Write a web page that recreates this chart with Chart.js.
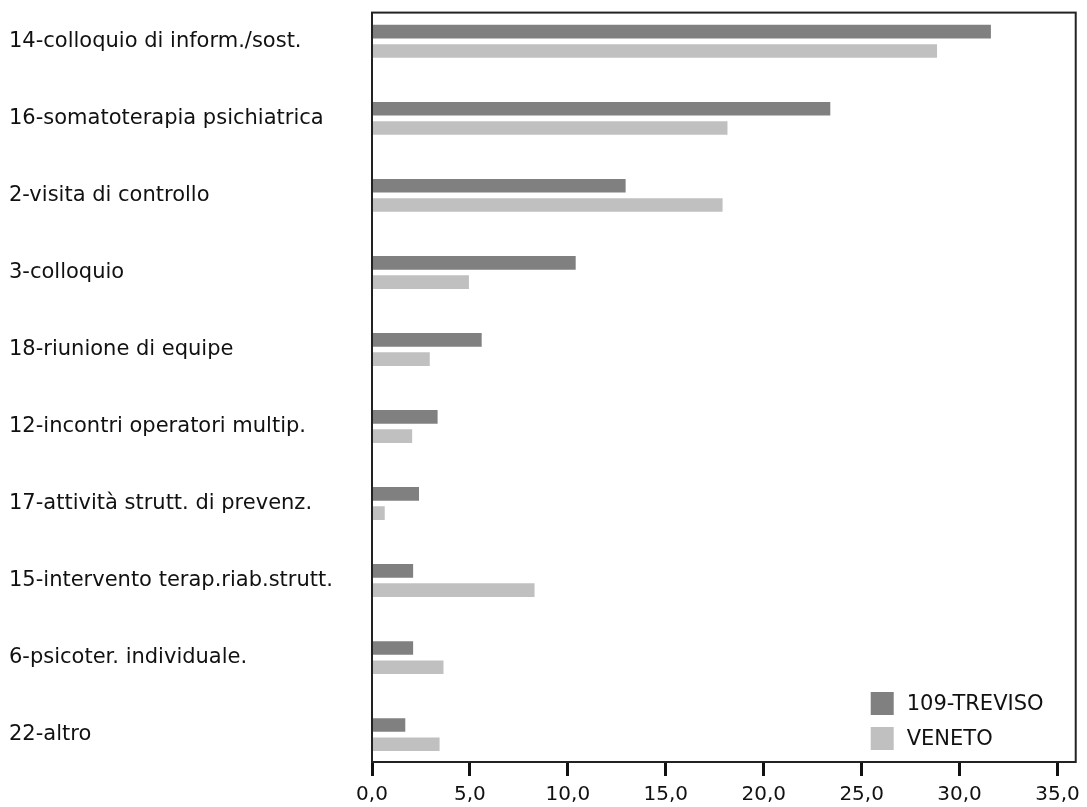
<!DOCTYPE html>
<html>
<head>
<meta charset="utf-8">
<script src="https://cdn.jsdelivr.net/npm/chart.js@4/dist/chart.umd.min.js"></script>
<style>
  html, body { margin: 0; padding: 0; background: #ffffff; }
  #wrap { width: 1087px; height: 807px; }
</style>
</head>
<body>
<div id="wrap"><canvas id="c" width="1087" height="807"></canvas></div>
<script>
const categories = [
  "14-colloquio di inform./sost.",
  "16-somatoterapia psichiatrica",
  "2-visita di controllo",
  "3-colloquio",
  "18-riunione di equipe",
  "12-incontri operatori multip.",
  "17-attività strutt. di prevenz.",
  "15-intervento terap.riab.strutt.",
  "6-psicoter. individuale.",
  "22-altro"
];
const seriesNames = ["109-TREVISO", "VENETO"];
const treviso = [31.6, 23.4, 12.95, 10.4, 5.6, 3.35, 2.4, 2.1, 2.1, 1.7];
const veneto  = [28.85, 18.15, 17.9, 4.95, 2.95, 2.05, 0.65, 8.3, 3.65, 3.45];
const xTickValues = [0, 5, 10, 15, 20, 25, 30, 35];
const xTickLabels = ["0,0", "5,0", "10,0", "15,0", "20,0", "25,0", "30,0", "35,0"];
const colors = ["#808080", "#c0c0c0"];

const FONT = "'DejaVu Sans', 'Liberation Sans', sans-serif";

const framePlugin = {
  id: 'frame',
  afterDraw(chart) {
    const a = chart.chartArea;
    const ctx = chart.ctx;
    ctx.save();
    ctx.strokeStyle = '#222';
    ctx.lineWidth = 2;
    ctx.strokeRect(a.left, a.top, a.right - a.left, a.bottom - a.top);
    // legend inside plot area (bottom right)
    const size = 23;
    const bx = a.right - 205;
    ctx.font = "21px " + FONT;
    ctx.textBaseline = 'middle';
    ctx.textAlign = 'left';
    chart.data.datasets.forEach((ds, i) => {
      const by = a.bottom - 70 + i * 35;
      ctx.fillStyle = ds.backgroundColor;
      ctx.fillRect(bx, by, size, size);
      ctx.fillStyle = '#111';
      ctx.fillText(ds.label, bx + 36, by + size / 2 + 1);
    });
    ctx.restore();
  }
};

new Chart(document.getElementById('c'), {
  type: 'bar',
  data: {
    datasets: [
      { label: seriesNames[0], data: treviso.map((v, i) => ({ x: v, y: i })), backgroundColor: colors[0], borderWidth: 0 },
      { label: seriesNames[1], data: veneto.map((v, i) => ({ x: v, y: i })), backgroundColor: colors[1], borderWidth: 0 }
    ]
  },
  options: {
    indexAxis: 'y',
    responsive: false,
    animation: false,
    devicePixelRatio: 1,
    categoryPercentage: 0.5,
    barPercentage: 0.71,
    layout: { padding: { left: 9, right: 9, top: 12, bottom: 0 } },
    plugins: { legend: { display: false }, tooltip: { enabled: false } },
    scales: {
      x: {
        type: 'linear',
        position: 'bottom',
        min: 0,
        max: 35.93,
        afterBuildTicks(scale) { scale.ticks = xTickValues.map(v => ({ value: v })); },
        afterFit(scale) { scale.height = 45; },
        ticks: {
          includeBounds: false,
          stepSize: 5,
          autoSkip: false,
          maxRotation: 0,
          padding: 7,
          color: '#111',
          font: { family: FONT, size: 20 },
          callback: (v) => { const k = xTickValues.indexOf(v); return k >= 0 ? xTickLabels[k] : ''; }
        },
        grid: { drawOnChartArea: false, drawTicks: true, tickLength: 14, tickWidth: 3, tickColor: '#111', color: '#111' },
        border: { display: false }
      },
      y: {
        type: 'linear',
        position: 'left',
        reverse: true,
        offset: false,
        min: -0.373,
        max: 9.355,
        afterBuildTicks(scale) { scale.ticks = categories.map((c, i) => ({ value: i })); },
        afterFit(scale) { scale.width = 363; },
        ticks: {
          stepSize: 1,
          includeBounds: false,
          autoSkip: false,
          crossAlign: 'far',
          padding: 0,
          color: '#111',
          font: { family: FONT, size: 21 },
          callback: (v) => categories[v] !== undefined ? categories[v] : ''
        },
        grid: { display: false, offset: false, drawTicks: false, tickLength: 0 },
        border: { display: false }
      }
    }
  },
  plugins: [framePlugin]
});
</script>
</body>
</html>
